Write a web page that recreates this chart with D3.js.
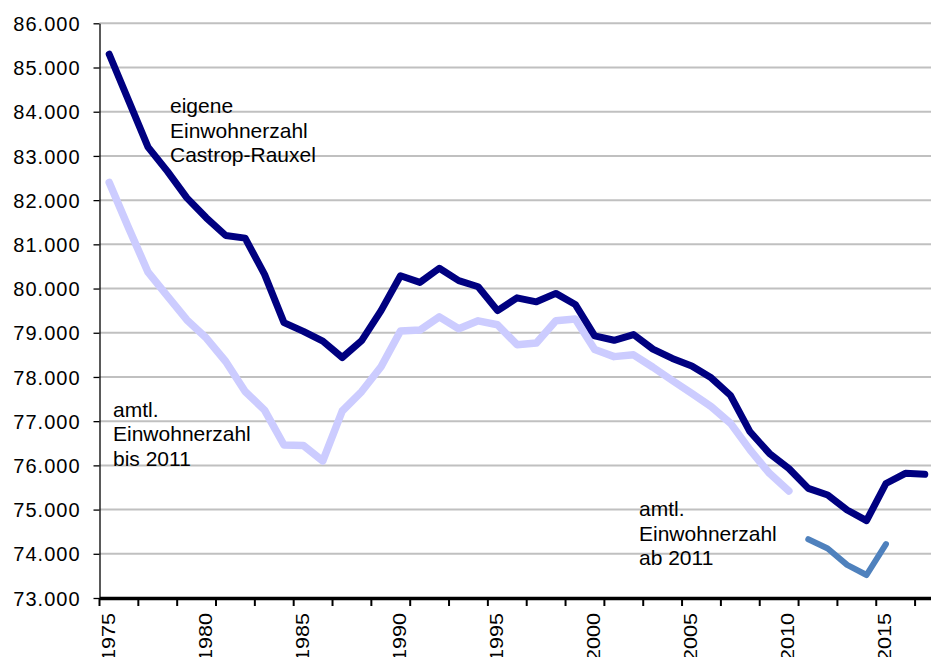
<!DOCTYPE html>
<html>
<head>
<meta charset="utf-8">
<script src="https://cdn.jsdelivr.net/npm/d3@7"></script>
<style>
body { margin: 0; background: #fff; }
svg { display: block; }
text { font-family: "Liberation Sans", Arial, sans-serif; fill: #000; }
</style>
</head>
<body>
<script>
var years = [1975, 1976, 1977, 1978, 1979, 1980, 1981, 1982, 1983, 1984,
  1985, 1986, 1987, 1988, 1989, 1990, 1991, 1992, 1993, 1994,
  1995, 1996, 1997, 1998, 1999, 2000, 2001, 2002, 2003, 2004,
  2005, 2006, 2007, 2008, 2009, 2010, 2011, 2012, 2013, 2014,
  2015, 2016, 2017]

// eigene Einwohnerzahl Castrop-Rauxel, 1975-2017
var eigene = [85300, 84250, 83200, 82650, 82050, 81600, 81200, 81140, 80320, 79230,
  79030, 78810, 78440, 78820, 79500, 80290, 80140, 80460, 80180, 80040,
  79500, 79790, 79700, 79890, 79640, 78930, 78830, 78960, 78630, 78420,
  78250, 77980, 77580, 76760, 76270, 75930, 75480, 75330, 74990, 74750,
  75590, 75820, 75800]

// amtl. Einwohnerzahl bis 2011, 1975-2010
var amtlBis2011 = [82400, 81370, 80370, 79830, 79290, 78880, 78350, 77670, 77250, 76460,
  76450, 76100, 77230, 77670, 78230, 79040, 79060, 79360, 79090, 79270,
  79180, 78730, 78770, 79270, 79310, 78620, 78460, 78500, 78220, 77920,
  77630, 77330, 76950, 76350, 75820, 75420]

// amtl. Einwohnerzahl ab 2011, 2011-2015
var amtlAb2011Years = [2011, 2012, 2013, 2014, 2015]
var amtlAb2011 = [74330, 74120, 73750, 73520, 74220]

var yTicks = [73000, 74000, 75000, 76000, 77000, 78000, 79000, 80000,
  81000, 82000, 83000, 84000, 85000, 86000]
var xLabelYears = [1975, 1980, 1985, 1990, 1995, 2000, 2005, 2010, 2015]

var width = 931, height = 657

var svg = d3.select("body").append("svg")
  .attr("width", width)
  .attr("height", height)

var x = d3.scaleBand().domain(years).range([99.5, 934.5])
var y = d3.scaleLinear().domain([73000, 86000]).range([598, 23.3])

var de = d3.formatLocale({ decimal: ",", thousands: ".", grouping: [3], currency: ["", " €"] })
var fmt = de.format(",")

// grid
svg.append("g")
  .attr("class", "grid")
  .selectAll("line")
  .data(yTicks)
  .enter().append("line")
    .attr("x1", x.range()[0])
    .attr("x2", width)
    .attr("y1", function(d) { return y(d) })
    .attr("y2", function(d) { return y(d) })
    .attr("stroke", "#c0c0c0")
    .attr("stroke-width", 2)

// lines
var line = d3.line()
  .x(function(d) { return x(d[0]) + x.bandwidth() / 2 })
  .y(function(d) { return y(d[1]) })

var series = [
  { name: "bis", values: d3.zip(years.slice(0, amtlBis2011.length), amtlBis2011), color: "#ccccff", w: 7.5 },
  { name: "ab", values: d3.zip(amtlAb2011Years, amtlAb2011), color: "#4f81bd", w: 6 },
  { name: "eigene", values: d3.zip(years, eigene), color: "#000080", w: 7 }
]

svg.selectAll("path.series")
  .data(series)
  .enter().append("path")
    .attr("class", "series")
    .attr("d", function(d) { return line(d.values) })
    .attr("fill", "none")
    .attr("stroke", function(d) { return d.color })
    .attr("stroke-width", function(d) { return d.w })
    .attr("stroke-linejoin", "round")
    .attr("stroke-linecap", "round")

// y axis
var yAxis = svg.append("g")
  .attr("transform", "translate(" + x.range()[0] + ",0)")
  .call(d3.axisLeft(y).tickValues(yTicks).tickSize(6).tickSizeOuter(0).tickPadding(13).tickFormat(fmt))

yAxis.attr("font-family", null).attr("font-size", null)
yAxis.select(".domain").attr("stroke", "#000").attr("stroke-width", 1.3)
yAxis.selectAll(".tick line").attr("stroke", "#000").attr("stroke-width", 1.3)
yAxis.selectAll(".tick text")
  .attr("font-size", 20)
  .attr("letter-spacing", 1)
  .attr("dy", "0.36em")

// x axis
var xAxis = svg.append("g")
  .attr("transform", "translate(0," + y(73000) + ")")
  .call(d3.axisBottom(x).tickValues(xLabelYears).tickSize(0).tickSizeOuter(0))

xAxis.attr("font-family", null).attr("font-size", null)
xAxis.select(".domain").attr("stroke", "#000").attr("stroke-width", 3.5)
// labels stretched along the text direction, as in the original
xAxis.selectAll(".tick text")
  .attr("font-size", 18)
  .attr("transform", "rotate(-90) scale(1.2,1)")
  .attr("text-anchor", "end")
  .attr("x", -15 / 1.2)
  .attr("y", 5.5)
  .attr("dy", null)

xAxis.selectAll("line.minor")
  .data(years.filter(function(d, i) { return i % 2 === 0 }))
  .enter().append("line")
    .attr("class", "minor")
    .attr("x1", function(d) { return x(d) })
    .attr("x2", function(d) { return x(d) })
    .attr("y1", 0)
    .attr("y2", 8)
    .attr("stroke", "#000")
    .attr("stroke-width", 2)

// annotations
var notes = [
  { x: 170, y: 113, lines: ["eigene", "Einwohnerzahl", "Castrop-Rauxel"] },
  { x: 113, y: 416.5, lines: ["amtl.", "Einwohnerzahl", "bis 2011"] },
  { x: 639, y: 516, lines: ["amtl.", "Einwohnerzahl", "ab 2011"] }
]

notes.forEach(function(n) {
  var t = svg.append("text")
    .attr("x", n.x)
    .attr("y", n.y)
    .attr("font-size", 21)
  t.selectAll("tspan")
    .data(n.lines)
    .enter().append("tspan")
      .attr("x", n.x)
      .attr("dy", function(d, i) { return i === 0 ? 0 : 24.5 })
      .text(function(d) { return d })
})
</script>
</body>
</html>
